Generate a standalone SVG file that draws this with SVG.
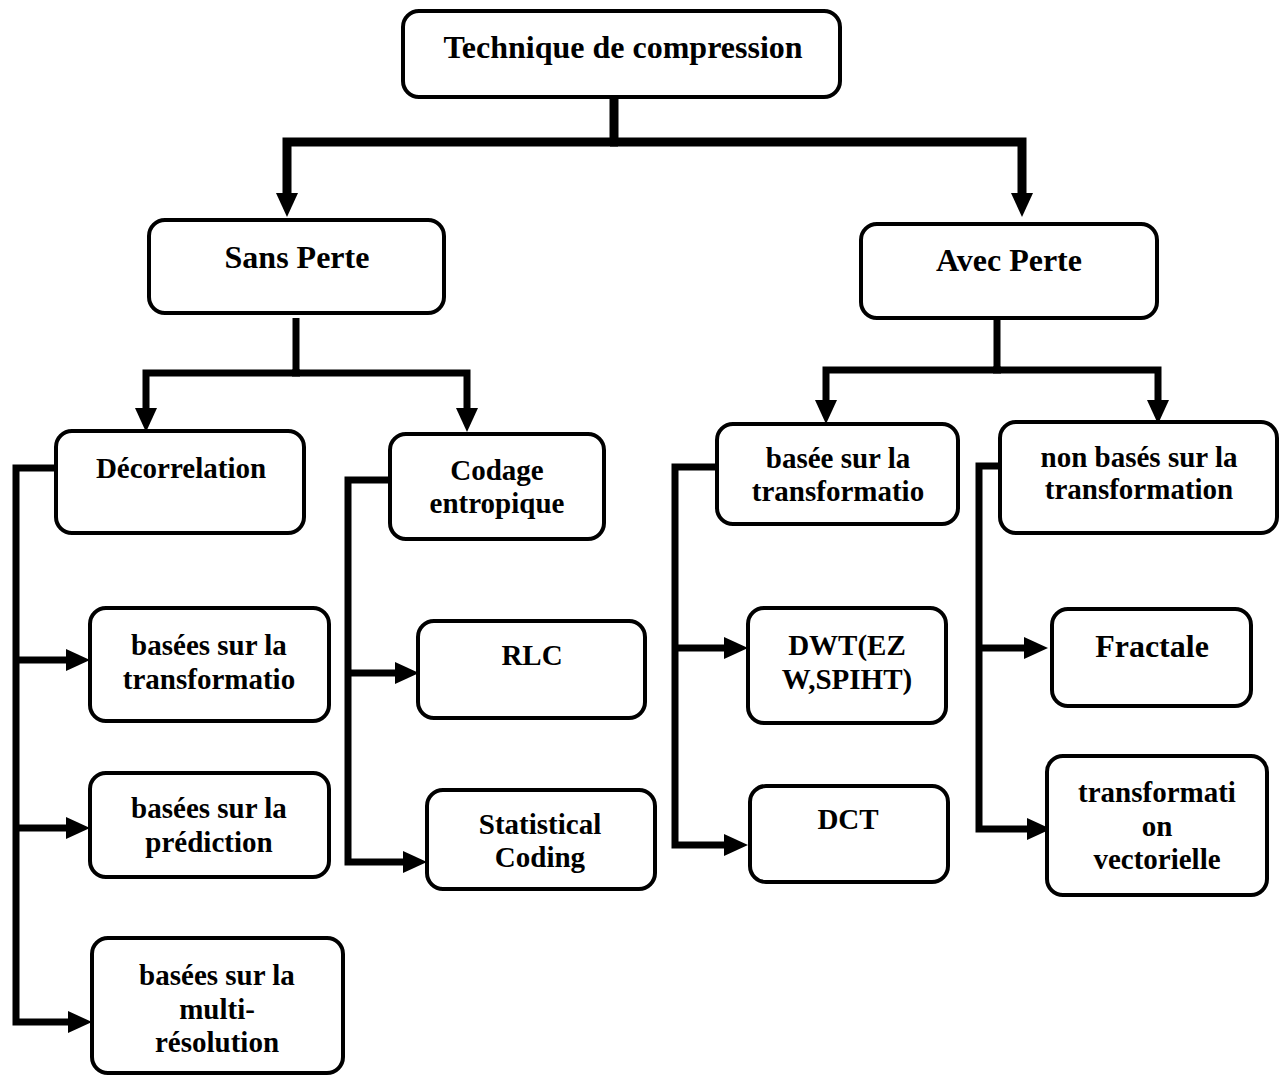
<svg xmlns="http://www.w3.org/2000/svg" width="1279" height="1077" viewBox="0 0 1279 1077">
  <style>
    .box { fill: #ffffff; stroke: #000000; stroke-width: 4; }
    .lbl { font-family: "Liberation Serif", "Times New Roman", serif; font-weight: bold; font-size: 29px; fill: #000000; text-anchor: middle; }
    .big { font-size: 32px; }
    .wire { fill: none; stroke: #000000; stroke-width: 7; stroke-linejoin: miter; stroke-linecap: butt; }
    .thick { stroke-width: 9; }
  </style>
  <defs>
    <marker id="head" viewBox="0 -11 24 22" refX="0" refY="0" markerWidth="24" markerHeight="22" markerUnits="userSpaceOnUse" orient="auto">
      <path d="M0,-11 L24,0 L0,11 Z" fill="#000000"/>
    </marker>
  </defs>

  <rect width="1279" height="1077" fill="#ffffff"/>

  <!-- connectors -->
  <g id="connectors">
    <!-- root split -->
    <path class="wire thick" d="M614,97 V142"/>
    <path class="wire thick" d="M618,142 H287 V193" marker-end="url(#head)"/>
    <path class="wire thick" d="M610,142 H1022 V193" marker-end="url(#head)"/>

    <!-- Sans Perte split -->
    <path class="wire" d="M296,318 V373"/>
    <path class="wire" d="M300,373 H146 V408" marker-end="url(#head)"/>
    <path class="wire" d="M292,373 H467 V408" marker-end="url(#head)"/>

    <!-- Avec Perte split -->
    <path class="wire" d="M997,318 V370"/>
    <path class="wire" d="M1001,370 H826 V400" marker-end="url(#head)"/>
    <path class="wire" d="M993,370 H1158 V400" marker-end="url(#head)"/>

    <!-- Décorrelation bracket -->
    <path class="wire" d="M56,468 H16 V1022 H68" marker-end="url(#head)"/>
    <path class="wire" d="M16,660 H66" marker-end="url(#head)"/>
    <path class="wire" d="M16,828 H66" marker-end="url(#head)"/>

    <!-- Codage entropique bracket -->
    <path class="wire" d="M390,480 H348 V862 H403" marker-end="url(#head)"/>
    <path class="wire" d="M348,673 H395" marker-end="url(#head)"/>

    <!-- basée sur la transformation bracket -->
    <path class="wire" d="M717,467 H675 V845 H724" marker-end="url(#head)"/>
    <path class="wire" d="M675,648 H724" marker-end="url(#head)"/>

    <!-- non basés bracket -->
    <path class="wire" d="M1000,466 H979 V829 H1027" marker-end="url(#head)"/>
    <path class="wire" d="M979,648 H1024" marker-end="url(#head)"/>
  </g>

  <!-- nodes -->
  <g id="root">
    <rect class="box" x="403" y="11" width="437" height="86" rx="16"/>
    <text class="lbl big" x="623" y="58">Technique de compression</text>
  </g>

  <g id="sans-perte">
    <rect class="box" x="149" y="220" width="295" height="93" rx="16"/>
    <text class="lbl big" x="297" y="268">Sans Perte</text>
  </g>

  <g id="avec-perte">
    <rect class="box" x="861" y="224" width="296" height="94" rx="16"/>
    <text class="lbl big" x="1009" y="271">Avec Perte</text>
  </g>

  <g id="decorrelation">
    <rect class="box" x="56" y="431" width="248" height="102" rx="16"/>
    <text class="lbl" x="181" y="478">Décorrelation</text>
  </g>

  <g id="codage-entropique">
    <rect class="box" x="390" y="434" width="214" height="105" rx="16"/>
    <text class="lbl" x="497" y="480">Codage</text>
    <text class="lbl" x="497" y="513">entropique</text>
  </g>

  <g id="basee-transformation">
    <rect class="box" x="717" y="424" width="241" height="100" rx="16"/>
    <text class="lbl" x="838" y="468">basée sur la</text>
    <text class="lbl" x="838" y="501">transformatio</text>
  </g>

  <g id="non-bases-transformation">
    <rect class="box" x="1000" y="422" width="277" height="111" rx="16"/>
    <text class="lbl" x="1139" y="467">non basés sur la</text>
    <text class="lbl" x="1139" y="499">transformation</text>
  </g>

  <g id="bases-transformation">
    <rect class="box" x="90" y="608" width="239" height="113" rx="16"/>
    <text class="lbl" x="209" y="655">basées sur la</text>
    <text class="lbl" x="209" y="689">transformatio</text>
  </g>

  <g id="bases-prediction">
    <rect class="box" x="90" y="773" width="239" height="104" rx="16"/>
    <text class="lbl" x="209" y="818">basées sur la</text>
    <text class="lbl" x="209" y="852">prédiction</text>
  </g>

  <g id="bases-multiresolution">
    <rect class="box" x="92" y="938" width="251" height="135" rx="16"/>
    <text class="lbl" x="217" y="985">basées sur la</text>
    <text class="lbl" x="217" y="1019">multi-</text>
    <text class="lbl" x="217" y="1052">résolution</text>
  </g>

  <g id="rlc">
    <rect class="box" x="418" y="621" width="227" height="97" rx="16"/>
    <text class="lbl" x="532" y="665">RLC</text>
  </g>

  <g id="statistical-coding">
    <rect class="box" x="427" y="790" width="228" height="99" rx="16"/>
    <text class="lbl" x="540" y="834">Statistical</text>
    <text class="lbl" x="540" y="867">Coding</text>
  </g>

  <g id="dwt">
    <rect class="box" x="748" y="608" width="198" height="115" rx="16"/>
    <text class="lbl" x="847" y="655">DWT(EZ</text>
    <text class="lbl" x="847" y="689">W,SPIHT)</text>
  </g>

  <g id="dct">
    <rect class="box" x="750" y="786" width="198" height="96" rx="16"/>
    <text class="lbl" x="848" y="829">DCT</text>
  </g>

  <g id="fractale">
    <rect class="box" x="1052" y="609" width="199" height="97" rx="16"/>
    <text class="lbl big" x="1152" y="657">Fractale</text>
  </g>

  <g id="transformation-vectorielle">
    <rect class="box" x="1047" y="756" width="220" height="139" rx="16"/>
    <text class="lbl" x="1157" y="802">transformati</text>
    <text class="lbl" x="1157" y="836">on</text>
    <text class="lbl" x="1157" y="869">vectorielle</text>
  </g>
</svg>
